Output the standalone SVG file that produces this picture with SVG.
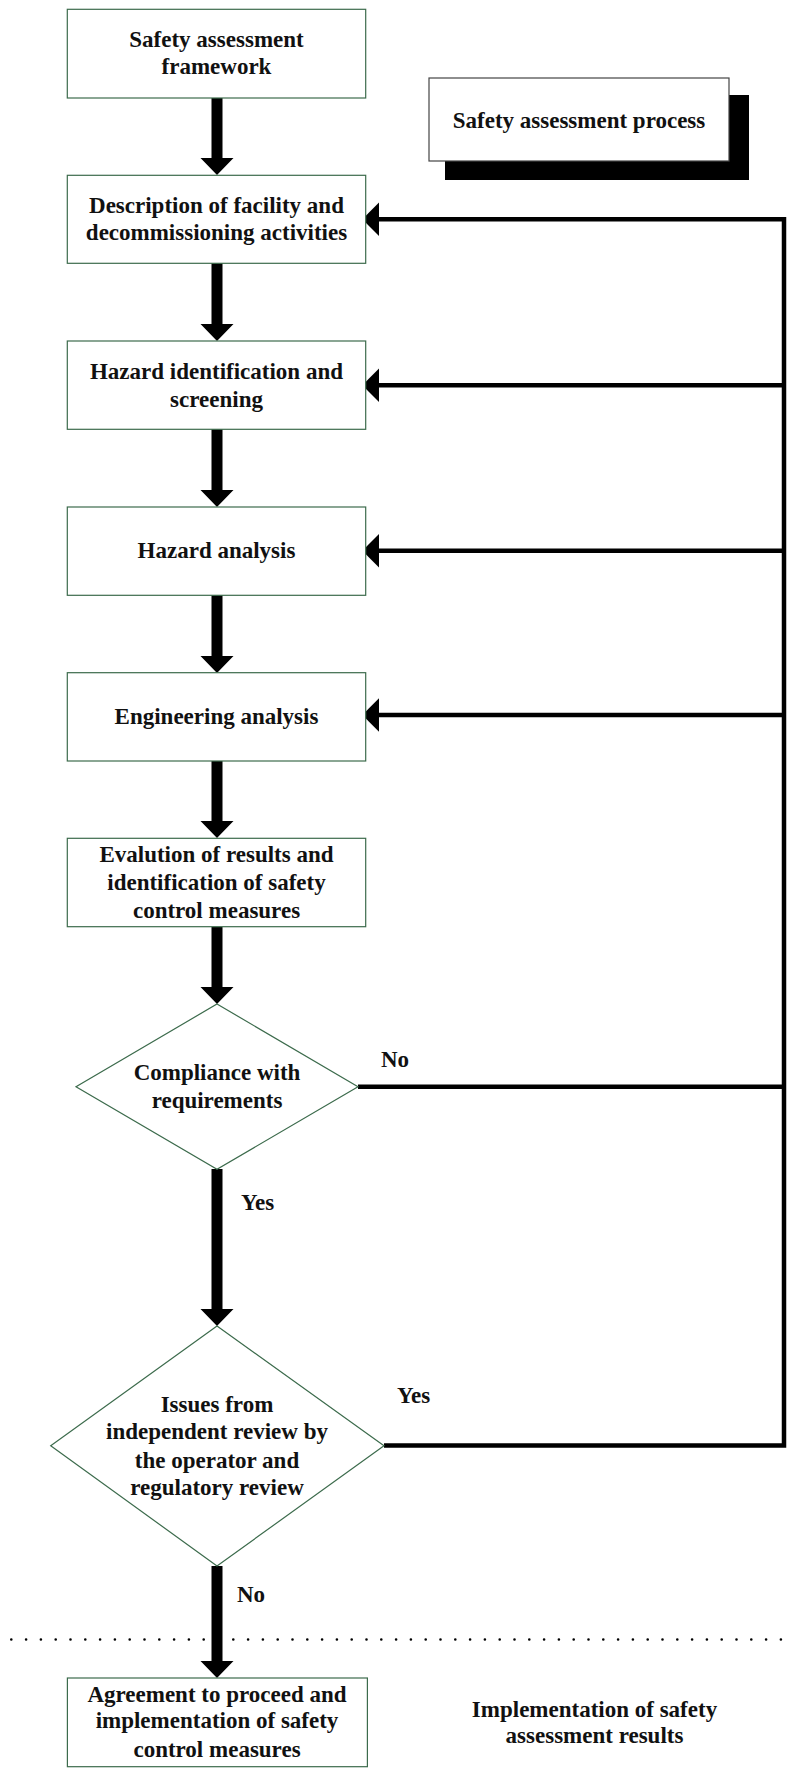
<svg xmlns="http://www.w3.org/2000/svg" width="791" height="1769" viewBox="0 0 791 1769">
<style>
.box{fill:#fff;stroke:#3c6b4c;stroke-width:1.2}
.t{font-family:"Liberation Serif","Times New Roman",serif;font-weight:bold;font-size:23px;fill:#111;text-anchor:middle}
.l{font-family:"Liberation Serif","Times New Roman",serif;font-weight:bold;font-size:23px;fill:#111}
.arr{fill:#000}
.fb{fill:none;stroke:#000;stroke-width:4.5;stroke-linejoin:miter}
</style>
<rect width="791" height="1769" fill="#fff"/>
<g id="title">
<rect x="445" y="95" width="304" height="85" fill="#000"/>
<rect x="429" y="78" width="300" height="83" fill="#fff" stroke="#444" stroke-width="1.2"/>
<text class="t" x="579" y="128">Safety assessment process</text>
</g>
<g id="connectors">
<path class="arr" d="M211.5,98 H222.5 V158 H233.5 L217,175 L200.5,158 H211.5 Z"/>
<path class="arr" d="M211.5,263 H222.5 V324 H233.5 L217,341 L200.5,324 H211.5 Z"/>
<path class="arr" d="M211.5,429 H222.5 V490 H233.5 L217,507 L200.5,490 H211.5 Z"/>
<path class="arr" d="M211.5,595 H222.5 V656 H233.5 L217,673 L200.5,656 H211.5 Z"/>
<path class="arr" d="M211.5,761 H222.5 V821 H233.5 L217,838 L200.5,821 H211.5 Z"/>
<path class="arr" d="M211.5,927 H222.5 V987 H233.5 L217,1004 L200.5,987 H211.5 Z"/>
<path class="arr" d="M211.5,1169 H222.5 V1309 H233.5 L217,1326 L200.5,1309 H211.5 Z"/>
<line x1="11.3" y1="1639.5" x2="784" y2="1639.5" stroke="#000" stroke-width="2.6" stroke-linecap="round" stroke-dasharray="0 14.8"/>
<path class="arr" d="M211.5,1566 H222.5 V1661 H233.5 L217,1678 L200.5,1661 H211.5 Z"/>
<path class="fb" d="M378,219.3 H784 V1445.5 H384"/>
<line class="fb" x1="378" y1="385.3" x2="784" y2="385.3"/>
<line class="fb" x1="378" y1="550.7" x2="784" y2="550.7"/>
<line class="fb" x1="378" y1="715" x2="784" y2="715"/>
<line class="fb" x1="358" y1="1086.7" x2="784" y2="1086.7"/>
<path class="arr" d="M362.3,219.3 L379,202.6 V236 Z"/>
<path class="arr" d="M362.3,385.3 L379,368.6 V402 Z"/>
<path class="arr" d="M362.3,550.7 L379,534 V567.4 Z"/>
<path class="arr" d="M362.3,715 L379,698.3 V731.7 Z"/>
<text class="l" x="381" y="1067">No</text>
<text class="l" x="241" y="1210">Yes</text>
<text class="l" x="397" y="1403">Yes</text>
<text class="l" x="237" y="1602">No</text>
</g>
<g id="n1">
<rect class="box" x="67.3" y="9.3" width="298.4" height="88.7"/>
<text class="t" x="216.5" y="46.7">Safety assessment</text>
<text class="t" x="216.5" y="74">framework</text>
</g>
<g id="n2">
<rect class="box" x="67.3" y="175.3" width="298.4" height="88"/>
<text class="t" x="216.5" y="212.5">Description of facility and</text>
<text class="t" x="216.5" y="240">decommissioning activities</text>
</g>
<g id="n3">
<rect class="box" x="67.3" y="341" width="298.4" height="88.3"/>
<text class="t" x="216.5" y="379">Hazard identification and</text>
<text class="t" x="216.5" y="407">screening</text>
</g>
<g id="n4">
<rect class="box" x="67.3" y="507" width="298.4" height="88.3"/>
<text class="t" x="216.5" y="557.5">Hazard analysis</text>
</g>
<g id="n5">
<rect class="box" x="67.3" y="672.7" width="298.4" height="88.3"/>
<text class="t" x="216.5" y="724">Engineering analysis</text>
</g>
<g id="n6">
<rect class="box" x="67.3" y="838.3" width="298.4" height="88.4"/>
<text class="t" x="216.5" y="861.7">Evalution of results and</text>
<text class="t" x="216.5" y="890">identification of safety</text>
<text class="t" x="216.5" y="917.7">control measures</text>
</g>
<g id="d1">
<polygon class="box" points="217,1004 358,1086.7 217,1169.3 76,1086.7"/>
<text class="t" x="217" y="1080">Compliance with</text>
<text class="t" x="217" y="1108.3">requirements</text>
</g>
<g id="d2">
<polygon class="box" points="217,1326 384,1445.7 217,1566 50.7,1445.7"/>
<text class="t" x="217" y="1411.7">Issues from</text>
<text class="t" x="217" y="1439">independent review by</text>
<text class="t" x="217" y="1467.7">the operator and</text>
<text class="t" x="217" y="1495">regulatory review</text>
</g>
<g id="n7">
<rect class="box" x="67.4" y="1678" width="300" height="88.7"/>
<text class="t" x="217" y="1701.7">Agreement to proceed and</text>
<text class="t" x="217" y="1728.3">implementation of safety</text>
<text class="t" x="217" y="1756.7">control measures</text>
</g>
<g id="impl">
<text class="t" x="594.5" y="1716.7">Implementation of safety</text>
<text class="t" x="594.5" y="1742.7">assessment results</text>
</g>
</svg>
